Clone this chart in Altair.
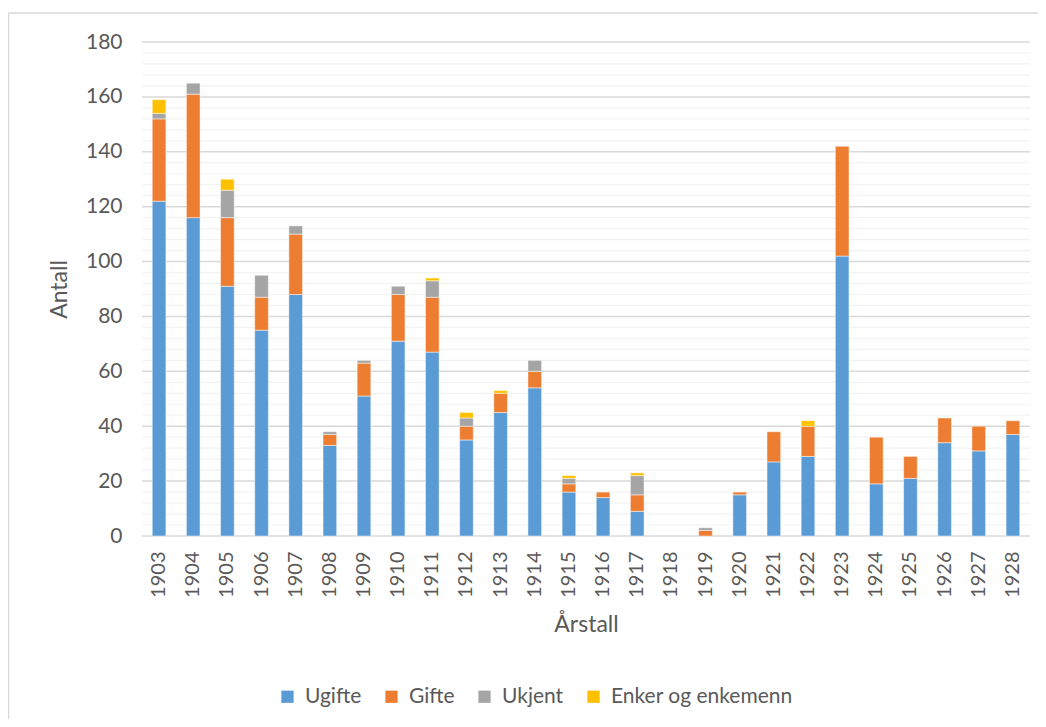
import altair as alt
import pandas as pd

years = ["1903", "1904", "1905", "1906", "1907", "1908", "1909", "1910", "1911",
         "1912", "1913", "1914", "1915", "1916", "1917", "1918", "1919", "1920",
         "1921", "1922", "1923", "1924", "1925", "1926", "1927", "1928"]
ugifte = [122, 116, 91, 75, 88, 33, 51, 71, 67, 35, 45, 54, 16, 14, 9, 0, 0, 15,
          27, 29, 102, 19, 21, 34, 31, 37]
gifte = [30, 45, 25, 12, 22, 4, 12, 17, 20, 5, 7, 6, 3, 2, 6, 0, 2, 1,
         11, 11, 40, 17, 8, 9, 9, 5]
ukjent = [2, 4, 10, 8, 3, 1, 1, 3, 6, 3, 0, 4, 2, 0, 7, 0, 1, 0,
          0, 0, 0, 0, 0, 0, 0, 0]
enker = [5, 0, 4, 0, 0, 0, 0, 0, 1, 2, 1, 0, 1, 0, 1, 0, 0, 0,
         0, 2, 0, 0, 0, 0, 0, 0]

series_names = ["Ugifte", "Gifte", "Ukjent", "Enker og enkemenn"]
series_colors = ["#5B9BD5", "#ED7D31", "#A5A5A5", "#FFC000"]
y_ticks = [0, 20, 40, 60, 80, 100, 120, 140, 160, 180]
minor_ticks = [v for v in range(0, 181, 4) if v % 20 != 0]

rows = []
for i, name in enumerate(series_names):
    vals = [ugifte, gifte, ukjent, enker][i]
    for yr, v in zip(years, vals):
        if v > 0:
            rows.append({"year": yr, "series": name, "value": v, "ord": i})
df = pd.DataFrame(rows)

FONT = "Lato"
TXT = "#595959"
yscale = alt.Scale(domain=[0, 180], nice=False)
yaxis = alt.Axis(values=y_ticks, grid=False, domain=False, ticks=False,
                 labelPadding=20, labelFontSize=21, labelColor=TXT,
                 title="Antall", titleFontSize=23, titleFontWeight="normal",
                 titleColor=TXT, titlePadding=14)

one = alt.Data(values=[{"a": 1}])
border_top = alt.Chart(one).mark_rule(color="#D9D9D9", strokeWidth=1.5).encode(
    x=alt.value(-133.5), x2=alt.value(1000), y=alt.value(-29))
border_left = alt.Chart(one).mark_rule(color="#D9D9D9", strokeWidth=1.5).encode(
    x=alt.value(-133.5), y=alt.value(-29), y2=alt.value(800))

minor = alt.Chart(pd.DataFrame({"v": minor_ticks})).mark_rule(
    color="#F2F2F2", strokeWidth=1.2
).encode(y=alt.Y("v:Q", scale=yscale, axis=yaxis))

major = alt.Chart(pd.DataFrame({"v": y_ticks})).mark_rule(
    color="#D9D9D9", strokeWidth=1.5
).encode(y=alt.Y("v:Q", scale=yscale, axis=yaxis))

bars = alt.Chart(df).mark_bar(stroke="white", strokeWidth=0.6, strokeOpacity=0.8).encode(
    x=alt.X("year:N", sort=years,
            scale=alt.Scale(domain=years, paddingInner=0.6, paddingOuter=0.3),
            axis=alt.Axis(labelAngle=-90, labelPadding=15, labelFontSize=20,
                          labelColor=TXT, ticks=False, domain=False, grid=False,
                          title="Årstall", titleFontSize=23, titleFontWeight="normal",
                          titleColor=TXT, titlePadding=16)),
    y=alt.Y("sum(value):Q", scale=yscale, axis=yaxis, stack="zero"),
    color=alt.Color("series:N", sort=series_names,
                    scale=alt.Scale(domain=series_names, range=series_colors),
                    legend=alt.Legend(orient="none", legendX=135, legendY=644,
                                      direction="horizontal", title=None,
                                      symbolType="square", symbolSize=150,
                                      symbolStrokeWidth=0, labelFontSize=21,
                                      labelLimit=400,
                                      labelColor=TXT, columnPadding=19,
                                      labelOffset=7)),
    order=alt.Order("ord:Q", sort="ascending"),
)

chart = alt.layer(border_top, border_left, minor, major, bars).properties(
    width=888, height=494,
    autosize=alt.AutoSizeParams(type="none"),
    padding={"left": 134, "top": 34, "right": 8, "bottom": 183},
).configure(font=FONT).configure_view(stroke=None)

chart.save("out.html", embed_options={"renderer": "svg", "actions": False})
